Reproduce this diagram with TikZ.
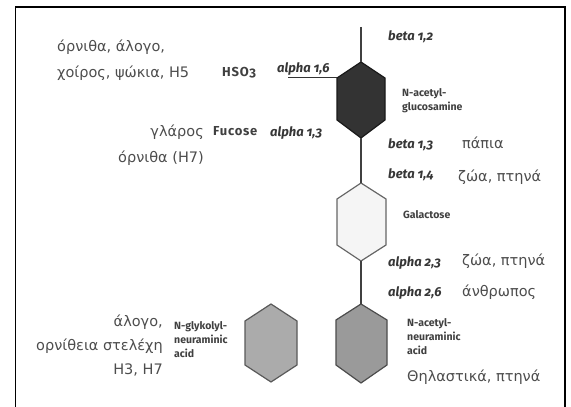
\documentclass[tikz,border=0pt]{standalone}
\usepackage{fontspec}
\setmainfont{DejaVu Sans}
\newfontfamily\grk{DejaVu Sans}
\newfontfamily\lbl[Numbers=OldStyle]{Fira Sans}
\newfontfamily\lblwide[Numbers=OldStyle,LetterSpace=6]{Fira Sans}
\definecolor{txtgray}{HTML}{4D4D4D}
\definecolor{lblgray}{HTML}{363636}
\definecolor{smallgray}{HTML}{404040}
\definecolor{darkhex}{HTML}{333333}
\definecolor{galhex}{HTML}{F5F5F5}
\definecolor{neuhex}{HTML}{9A9A9A}
\definecolor{glyhex}{HTML}{ABABAB}
\begin{document}
\begin{tikzpicture}[x=1pt,y=1pt,
  greek/.style={font=\grk\fontsize{14.5}{24}\selectfont, text=txtgray, inner sep=0pt},
  linkage/.style={font=\lbl\bfseries\itshape\fontsize{13}{14}\selectfont, text=lblgray, inner sep=0pt},
  small/.style={font=\lbl\bfseries\fontsize{10.5}{14}\selectfont, text=smallgray, inner sep=0pt, align=left},
  mid/.style={font=\lblwide\bfseries\fontsize{13}{14}\selectfont, text=smallgray, inner sep=0pt},
  hexline/.style={line width=1.2pt},
  bond/.style={line width=1.3pt, draw=black!75}]
\useasboundingbox (0,0) rectangle (571,407);
% frame (top, left, right)
\draw[line width=1.6pt] (15.5,0) -- (15.5,400) -- (565,400) -- (565,0);

% hexagons
\coordinate (stemtop) at (361,380);
\coordinate (hsoend) at (288,329);
\filldraw[hexline, fill=darkhex, draw=black!90] (361,345) coordinate (glcT) -- (385,329) -- (385,287) -- (361,269) coordinate (glcB) -- (337,287) -- (337,329) coordinate (glcUL) -- cycle;
\filldraw[hexline, fill=galhex, draw=black!60] (361,224) coordinate (galT) -- (386,208) -- (386,162) -- (361,146) coordinate (galB) -- (337,162) -- (337,208) -- cycle;
\filldraw[hexline, fill=neuhex, draw=black!70] (361,103) coordinate (neuT) -- (387,87) -- (387,42) -- (361,24) -- (336,42) -- (336,87) -- cycle;
\filldraw[hexline, fill=glyhex, draw=black!65] (271,103) -- (297,86) -- (297,42) -- (271,25) -- (245,42) -- (245,86) -- cycle;

% bonds
\draw[bond] (stemtop) -- (glcT);
\draw[bond] (glcB) -- (galT);
\draw[bond] (galB) -- (neuT);
\draw[line width=1pt, draw=black!80] (hsoend) -- (glcUL);

% left labels
\node[greek, anchor=west] (t1) at (57,360) {όρνιθα, άλογο,};
\node[greek, anchor=west] (t2) at (57,334) {χοίρος, ψώκια, H5};
\node[mid, anchor=west] (hso) at (222,334) {HSO3};
\node[linkage, anchor=west] (a16) at (277,338) {alpha 1,6};
\node[greek, anchor=east] (t3) at (204,275) {γλάρος};
\node[mid, anchor=west] (fuc) at (213,276) {Fucose};
\node[linkage, anchor=west] (a13) at (270,274) {alpha 1,3};
\node[greek, anchor=east] (t4) at (204,249) {όρνιθα (H7)};

% right labels
\node[linkage, anchor=west] (b12) at (388,370) {beta 1,2};
\node[small, anchor=west] (glcn) at (402,306) {N-acetyl-\\glucosamine};
\node[linkage, anchor=west] (b13) at (388,262) {beta 1,3};
\node[greek, anchor=west] (t5) at (462,264) {πάπια};
\node[linkage, anchor=west] (b14) at (388,232) {beta 1,4};
\node[greek, anchor=west] (t6) at (458,230) {ζώα, πτηνά};
\node[small, anchor=west] (gal) at (403,192) {Galactose};
\node[linkage, anchor=west] (a23) at (388,144) {alpha 2,3};
\node[greek, anchor=west] (t7) at (462,146) {ζώα, πτηνά};
\node[linkage, anchor=west] (a26) at (388,114) {alpha 2,6};
\node[greek, anchor=west] (t8) at (462,115) {άνθρωπος};
\node[small, anchor=west] (neun) at (407,70) {N-acetyl-\\neuraminic\\acid};
\node[greek, anchor=west] (t9) at (407,30) {Θηλαστικά, πτηνά};

% bottom-left labels
\node[greek, anchor=east, align=right] (t10) at (163,61) {άλογο,\\ορνίθεια στελέχη\\H3, H7};
\node[small, anchor=west] (glyn) at (174,67) {N-glykolyl-\\neuraminic\\acid};
\end{tikzpicture}
\end{document}
